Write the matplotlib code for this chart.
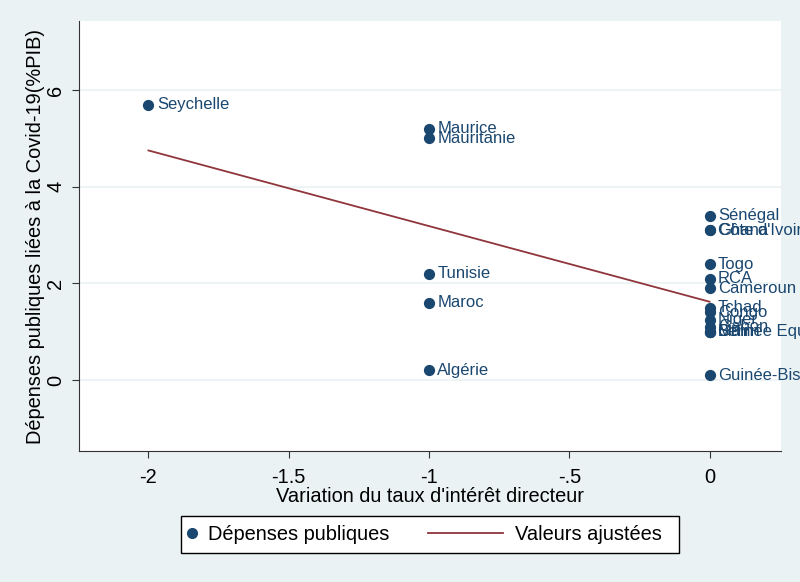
import matplotlib
matplotlib.use('Agg')
import matplotlib.pyplot as plt
from matplotlib.lines import Line2D
from matplotlib.patches import Rectangle

# donnees
pays = ['Seychelle', 'Maurice', 'Mauritanie', 'Tunisie', 'Maroc', 'Algérie',
        'Sénégal', "Côte d'Ivoire", 'Ghana', 'Togo', 'RCA', 'Cameroun',
        'Tchad', 'Congo', 'Niger', 'Gabon', 'Bénin', 'Mali',
        'Guinée Equatoriale', 'Guinée-Bissau']
taux = [-2, -1, -1, -1, -1, -1,
        0, 0, 0, 0, 0, 0,
        0, 0, 0, 0, 0, 0,
        0, 0]
depenses = [5.7, 5.2, 5.0, 2.2, 1.6, 0.2,
            3.4, 3.1, 3.1, 2.4, 2.1, 1.9,
            1.5, 1.4, 1.25, 1.1, 1.0, 1.0,
            1.0, 0.1]

# valeurs ajustees (droite de regression)
fit_x = [-2, 0]
fit_y = [4.75, 1.62]

xticks = [-2, -1.5, -1, -0.5, 0]
xtick_labels = ['-2', '-1.5', '-1', '-.5', '0']
yticks = [0, 2, 4, 6]

bleu = '#1a476f'
rouge = '#90353b'
fond = '#eaf2f3'

plt.rcParams['font.family'] = ['Liberation Sans', 'DejaVu Sans']

fig = plt.figure(figsize=(8, 5.82), dpi=100, facecolor=fond)
ax = fig.add_axes([0.099, 0.225, 0.877, 0.739])
ax.set_facecolor('white')

for yv in yticks:
    ax.axhline(yv, color=fond, lw=1.2, zorder=0)

ax.scatter(taux, depenses, s=50, color=bleu, zorder=3)
for p, xv, yv in zip(pays, taux, depenses):
    ax.annotate(p, (xv, yv), xytext=(6, 0), textcoords='offset points',
                va='center', ha='left', color=bleu, fontsize=12,
                annotation_clip=False)

ax.plot(fit_x, fit_y, color=rouge, lw=1.3, zorder=2)

ax.set_xlim(-2.247, 0.254)
ax.set_ylim(-1.47, 7.43)
ax.set_xticks(xticks)
ax.set_xticklabels(xtick_labels)
ax.set_yticks(yticks)
ax.set_yticklabels([str(v) for v in yticks], rotation=90, va='center')
ax.tick_params(labelsize=14.4, length=5, color='#333333', pad=5)
ax.tick_params(axis='x', pad=7)

for s in ['top', 'right']:
    ax.spines[s].set_visible(False)
for s in ['left', 'bottom']:
    ax.spines[s].set_color('#333333')

ax.set_xlabel("Variation du taux d'intérêt directeur", fontsize=14.4, labelpad=0)
ax.set_ylabel('Dépenses publiques liées à la Covid-19(%PIB)', fontsize=14.4, labelpad=1)

# legende : cadre + deux entrees
fig.patches.append(Rectangle((0.226, 0.0498), 0.6225, 0.0636, transform=fig.transFigure,
                             facecolor='white', edgecolor='black', lw=1, zorder=1))
leg1 = fig.legend([Line2D([], [], marker='o', ls='none', color=bleu, markersize=7)],
                  ['Dépenses publiques'], loc='center left',
                  bbox_to_anchor=(0.2275, 0.0816), fontsize=14.4, frameon=False,
                  handlelength=1.0, handletextpad=0.3, borderpad=0, borderaxespad=0)
leg2 = fig.legend([Line2D([], [], color=rouge, lw=1.3)],
                  ['Valeurs ajustées'], loc='center left',
                  bbox_to_anchor=(0.535, 0.0816), fontsize=14.4, frameon=False,
                  handlelength=3.75, handletextpad=0.6, borderpad=0, borderaxespad=0)
leg1.set_zorder(2)
leg2.set_zorder(2)

plt.savefig('out.png', dpi=100, facecolor=fond)
